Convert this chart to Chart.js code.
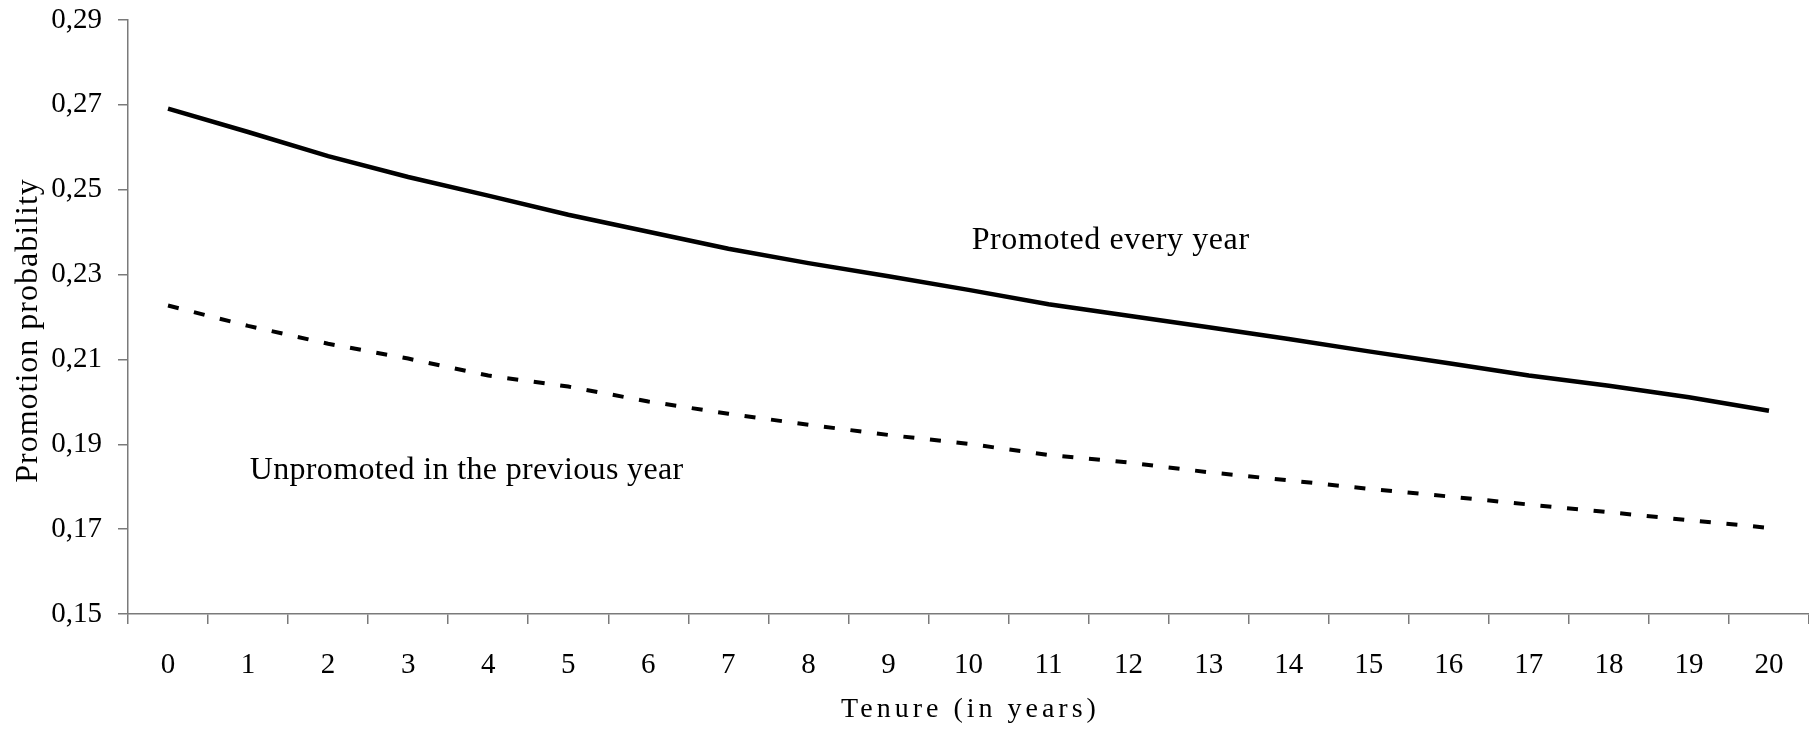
<!DOCTYPE html>
<html>
<head>
<meta charset="utf-8">
<script src="https://cdn.jsdelivr.net/npm/chart.js@4.4.0/dist/chart.umd.min.js"></script>
<style>
  html, body { margin: 0; padding: 0; background: #fff; overflow: hidden; }
  #wrap { width: 1809px; height: 739px; }
</style>
</head>
<body>
<div id="wrap"><canvas id="chart-promotion" width="1809" height="739"></canvas></div>
<script>
var tenureYears = ['0', '1', '2', '3', '4', '5', '6', '7', '8', '9', '10',
  '11', '12', '13', '14', '15', '16', '17', '18', '19', '20'];

var promotedEveryYear = [0.2691, 0.2636, 0.2579, 0.2530, 0.2486, 0.2441, 0.2401,
  0.2361, 0.2327, 0.2296, 0.2264, 0.2230, 0.2203, 0.2176, 0.2148, 0.2119,
  0.2091, 0.2062, 0.2038, 0.2011, 0.1979];

var unpromotedPrevYear = [0.2227, 0.2179, 0.2137, 0.2102, 0.2062, 0.2036, 0.2001,
  0.1972, 0.1946, 0.1922, 0.1901, 0.1875, 0.1857, 0.1834, 0.1815, 0.1795,
  0.1777, 0.1758, 0.1740, 0.1721, 0.1703];

var yTicks = [0.15, 0.17, 0.19, 0.21, 0.23, 0.25, 0.27, 0.29];

var seriesLabels = ['Promoted every year', 'Unpromoted in the previous year'];
var xTitle = 'Tenure (in years)';
var yTitle = 'Promotion probability';

var serif = '"Liberation Serif", "DejaVu Serif", serif';
var axisGrey = '#7a7a7a';

function spacedText(ctx, text, x, y, spacing, centered) {
  ctx.letterSpacing = spacing + 'px';
  var w = ctx.measureText(text).width - spacing;
  ctx.textAlign = 'left';
  ctx.fillText(text, centered ? x - w / 2 : x, y);
  ctx.letterSpacing = '0px';
}

// series labels and axis titles, drawn on the canvas
var textPlugin = {
  id: 'textPlugin',
  afterDraw: function (chart) {
    var ctx = chart.ctx,
      xs = chart.scales.x,
      ys = chart.scales.y,
      area = chart.chartArea;

    ctx.save();
    ctx.fillStyle = '#000';
    ctx.textBaseline = 'alphabetic';

    ctx.font = '32px ' + serif;
    spacedText(ctx, seriesLabels[0], xs.getPixelForValue(10.04), ys.getPixelForValue(0.2361), 0.6, false);
    spacedText(ctx, seriesLabels[1], xs.getPixelForValue(1.02), ys.getPixelForValue(0.1819), 0.35, false);

    ctx.font = '28px ' + serif;
    spacedText(ctx, xTitle, (area.left + area.right) / 2, 717, 4, true);

    ctx.translate(37, 331);
    ctx.rotate(-Math.PI / 2);
    ctx.font = '32px ' + serif;
    spacedText(ctx, yTitle, 0, 0, 1, true);
    ctx.restore();
  }
};

var ctx = document.getElementById('chart-promotion').getContext('2d');

var chart = new Chart(ctx, {
  type: 'line',
  data: {
    labels: tenureYears,
    datasets: [{
      label: seriesLabels[0],
      data: promotedEveryYear,
      borderColor: '#000',
      borderWidth: 4.5,
      pointRadius: 0,
      tension: 0,
      fill: false
    }, {
      label: seriesLabels[1],
      data: unpromotedPrevYear,
      borderColor: '#000',
      borderWidth: 4,
      borderDash: [11, 15.7],
      pointRadius: 0,
      tension: 0,
      fill: false
    }]
  },
  options: {
    responsive: false,
    animation: false,
    devicePixelRatio: 1,
    layout: { autoPadding: false, padding: { top: 20, right: 0, bottom: 0, left: 0 } },
    plugins: {
      legend: { display: false },
      tooltip: { enabled: false }
    },
    scales: {
      x: {
        offset: true,
        grid: {
          offset: true,
          drawOnChartArea: false,
          tickLength: 10,
          color: axisGrey,
          lineWidth: 1.5
        },
        border: { display: true, color: axisGrey, width: 1.5 },
        ticks: {
          color: '#000',
          font: { family: serif, size: 29 },
          padding: 24,
          maxRotation: 0,
          autoSkip: false
        },
        afterFit: function (scale) {
          scale.height = 125;
          scale.paddingLeft = 0;
          scale.paddingRight = 0;
        }
      },
      y: {
        min: 0.15,
        max: 0.29,
        grid: {
          drawOnChartArea: false,
          tickLength: 10,
          color: axisGrey,
          lineWidth: 1.5
        },
        border: { display: true, color: axisGrey, width: 1.5 },
        ticks: {
          color: '#000',
          font: { family: serif, size: 29 },
          padding: 16,
          callback: function (value) { return value.toFixed(2).replace('.', ','); }
        },
        afterBuildTicks: function (scale) {
          scale.ticks = yTicks.map(function (v) { return { value: v }; });
        },
        afterFit: function (scale) {
          scale.width = 128;
          scale.paddingTop = 0;
          scale.paddingBottom = 0;
        }
      }
    }
  },
  plugins: [textPlugin]
});
</script>
</body>
</html>
